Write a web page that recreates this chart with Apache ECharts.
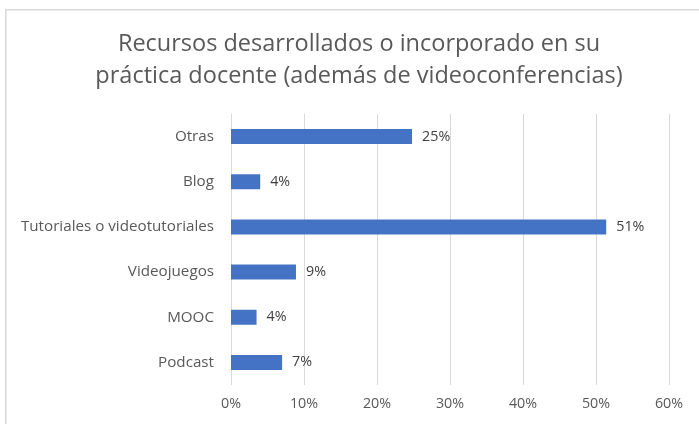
<!DOCTYPE html>
<html>
<head>
<meta charset="utf-8">
<script src="https://cdn.jsdelivr.net/npm/echarts@6/dist/echarts.min.js"></script>
<style>
html,body{margin:0;padding:0;background:#fff;}
#c{width:699px;height:424px;}
</style>
</head>
<body>
<div id="c"></div>
<script>
var categories = ['Otras', 'Blog', 'Tutoriales o videotutoriales', 'Videojuegos', 'MOOC', 'Podcast'];
var values = [24.8, 4.0, 51.4, 8.9, 3.5, 7.0];
var xTicks = [0, 10, 20, 30, 40, 50, 60];
var titleText = 'Recursos desarrollados o incorporado en su\npráctica docente (además de videoconferencias)';

var FONT = '"Open Sans"';
var chart = echarts.init(document.getElementById('c'), null, {renderer: 'canvas'});
chart.setOption({
  animation: false,
  backgroundColor: '#ffffff',
  graphic: [{
    type: 'rect', left: 5, top: 9, z: -1,
    shape: {width: 720, height: 440},
    style: {fill: '#ffffff', stroke: '#d9d9d9', lineWidth: 1.5}
  }],
  title: {
    text: titleText,
    left: 354, top: 23,
    textAlign: 'center',
    textStyle: {fontFamily: FONT, fontSize: 23.5, fontWeight: 'normal', color: '#595959', lineHeight: 32}
  },
  grid: {left: 231, right: 30, top: 114, bottom: 39, containLabel: false},
  xAxis: {
    type: 'value', min: xTicks[0], max: xTicks[xTicks.length - 1], interval: 10,
    axisLine: {show: false}, axisTick: {show: false},
    splitLine: {show: true, lineStyle: {color: '#d9d9d9', width: 1}},
    axisLabel: {formatter: function (v) { return v + '%'; }, color: '#595959', fontFamily: FONT, fontSize: 14.3, margin: 12}
  },
  yAxis: {
    type: 'category', data: categories, inverse: true,
    axisLine: {show: false}, axisTick: {show: false},
    axisLabel: {color: '#595959', fontFamily: FONT, fontSize: 15.2, margin: 17}
  },
  series: [{
    type: 'bar', data: values, barWidth: 15,
    itemStyle: {color: '#4472c4'},
    label: {show: true, position: 'right', distance: 10, color: '#404040', fontFamily: FONT, fontSize: 14.3,
      formatter: function (p) { return Math.round(p.value) + '%'; }}
  }]
});
</script>
</body>
</html>
